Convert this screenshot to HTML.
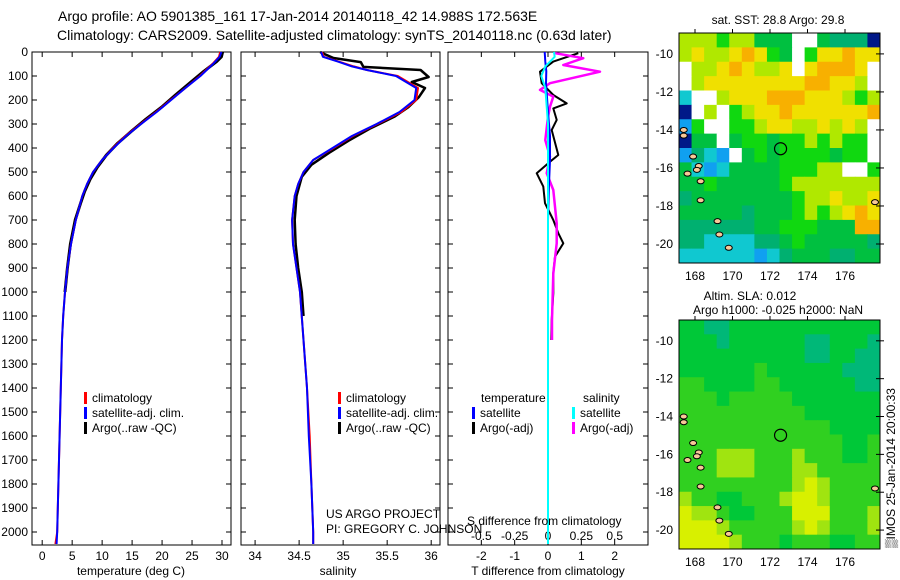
<!DOCTYPE html>
<html><head><meta charset="utf-8"><style>
body{margin:0;background:#fff;}
svg{display:block;font-family:"Liberation Sans",sans-serif;}
</style></head><body>
<svg id="fig" width="900" height="580" viewBox="0 0 900 580" xmlns="http://www.w3.org/2000/svg">
<text x="58" y="21" font-size="14">Argo profile: AO 5901385_161 17-Jan-2014 20140118_42 14.988S 172.563E</text>
<text x="57" y="40" font-size="14">Climatology: CARS2009. Satellite-adjusted climatology: synTS_20140118.nc (0.63d later)</text>
<g id="p1"></g>
<g id="p2"></g>
<g id="p3"></g>
<g id="m1"></g>
<g id="m2"></g>
<text x="778" y="24" font-size="12" text-anchor="middle">sat. SST: 28.8 Argo: 29.8</text>
<text x="750" y="300" font-size="12" text-anchor="middle">Altim. SLA: 0.012</text>
<text x="778" y="314" font-size="12" text-anchor="middle">Argo h1000: -0.025 h2000: NaN</text>
<text transform="translate(895,548) rotate(-90)" font-size="12">▒IMOS 25-Jan-2014 20:00:33</text>
<text x="326" y="518" font-size="12">US ARGO PROJECT</text>
<text x="326" y="533" font-size="12">PI: GREGORY C. JOHNSON</text>
<text x="467" y="525" font-size="12">S difference from climatology</text>
<text x="131" y="575" font-size="12" text-anchor="middle">temperature (deg C)</text>
<text x="338" y="575" font-size="12" text-anchor="middle">salinity</text>
<text x="548" y="575" font-size="12" text-anchor="middle">T difference from climatology</text>
</svg>
<script>
// ---- data ----
const tempDepth = [0,20,50,100,150,200,250,300,350,400,450,500,550,600,700,800,900,1000,1100,1200,1400,1600,1800,2000,2050];
const tempClim  = [29.7,29.5,28.4,26.3,23.9,21.4,19.0,16.4,13.9,11.8,10.0,8.5,7.5,6.7,5.6,4.8,4.2,3.8,3.5,3.3,3.1,2.9,2.7,2.5,2.2];
const tempSat   = [29.9,29.6,28.5,26.4,23.9,21.5,19.1,16.5,14.0,11.9,10.0,8.5,7.5,6.7,5.6,4.8,4.2,3.8,3.5,3.3,3.1,2.9,2.7,2.5,2.4];
const argoDepth = [0,20,40,80,130,180,230,280,330,380,430,480,530,580,630,700,800,900,1000];
const argoTemp  = [30.1,29.9,29.1,27.0,24.6,22.2,19.9,17.3,14.9,12.6,10.7,9.2,8.0,7.1,6.4,5.5,4.7,4.2,3.8];
const salDepth  = [0,20,40,60,75,100,150,200,250,300,350,400,450,500,550,600,700,800,900,1000,1200,1400,1600,1800,2000,2050];
const salClim   = [34.76,34.78,34.95,35.12,35.27,35.62,35.85,35.83,35.66,35.39,35.11,34.89,34.66,34.55,34.49,34.45,34.42,34.43,34.47,34.51,34.55,34.59,34.62,34.64,34.66,34.66];
const salSat    = [34.75,34.77,34.94,35.10,35.27,35.60,35.83,35.81,35.64,35.38,35.10,34.88,34.66,34.55,34.49,34.45,34.42,34.43,34.47,34.51,34.55,34.59,34.61,34.64,34.66,34.66];
const argoSalDepth = [0,4,25,42,62,75,104,125,150,188,230,270,320,370,420,470,520,600,700,800,900,1000,1100];
const argoSal   = [34.74,34.76,34.89,35.20,35.23,35.88,35.97,35.78,35.93,35.86,35.74,35.58,35.30,35.06,34.84,34.64,34.53,34.47,34.45,34.46,34.49,34.53,34.55];
const tDiffSatDepth = [0,40,80,130,250,350,450,550,700,2050];
const tDiffSat  = [-0.10,-0.08,-0.05,-0.06,0.0,0.06,0.06,0.03,0.0,0.0];
const sDiffSatDepth = [0,20,60,100,150,300,2050];
const sDiffSat  = [0.045,0.05,-0.02,-0.05,-0.02,0.0,0.0];
const tDiffArgoDepth = [5,40,82,130,179,214,235,283,325,429,457,505,561,630,700,755,797,853,922,1005,1117,1200];
const tDiffArgo = [0.91,0.16,-0.24,-0.19,0.16,0.56,0.16,0.26,0.11,0.31,0.06,-0.34,-0.14,-0.09,0.16,0.31,0.46,0.21,0.16,0.16,0.11,0.10];
const sDiffArgoDepth = [5,26,54,82,130,158,186,228,270,367,436,505,575,714,797,922,1117,1200];
const sDiffArgo = [0.053,0.265,0.115,0.39,0.015,-0.06,0.04,0.015,0.0,-0.02,0.015,-0.01,0.04,0.065,0.065,0.04,0.03,0.03];
const depthTicks = [0,100,200,300,400,500,600,700,800,900,1000,1100,1200,1300,1400,1500,1600,1700,1800,1900,2000];
const tempTicks = [0,5,10,15,20,25,30];
const salTicks = [34,34.5,35,35.5,36];
const tdTicks = [-2,-1,0,1,2];
const sdTicks = [-0.5,-0.25,0,0.25,0.5];
const sdTickLabels = ["-0.5","-0.25","0","0.25","0.5"];
const latTicks = [-10,-12,-14,-16,-18,-20];
const lonTicks = [168,170,172,174,176];
// SST map grid (0=no data, 1..9 colour classes), rows north->south
const sstGrid = [
"7776775550054441","7877898650688988","0778987780899980","0788888888998870",
"3007888999888767","1070678898888889","2600667887787870","1550566566767660",
"2432056566665660","5323555566677006","5565555567777777","4555555556778778",
"5555545556767898","4444445566655599","4433334456555554","3333332345554455"];
// SLA map grid
const slaGrid = [
"5544555555555555","5554555555445554","5555555555445544","5555556555555444",
"6655556655555544","6665666665555555","6666666666555555","6666666666665555",
"6666666666666556","6667776667666556","6667776667766666","6666666667876666",
"7665566678876666","8776556668886667","8887666667876667","8888766656665566"];
const islands = [[167.4,-14.0],[167.4,-14.3],[167.9,-15.4],[168.2,-15.9],[167.6,-16.3],[168.1,-16.1],[168.3,-16.7],[168.3,-17.7],[169.2,-18.8],[169.3,-19.5],[169.8,-20.2],[177.6,-17.8]];
const floatLon = 172.563, floatLat = -14.988;

// ---- helpers ----
const NS="http://www.w3.org/2000/svg";
function mk(parent,tag,attrs){const e=document.createElementNS(NS,tag);for(const k in attrs)e.setAttribute(k,attrs[k]);parent.appendChild(e);return e;}
const depthToY = d => 52 + d*0.24;

function panel(g,x0,x1,xmin,xmax){
  const sx = v => x0 + (v-xmin)/(xmax-xmin)*(x1-x0);
  const r=mk(g,'rect',{x:x0,y:52,width:x1-x0,height:493,fill:'#fff',stroke:'#000','stroke-width':1});
  
  
  depthTicks.forEach(d=>{const y=depthToY(d);
    mk(g,'line',{x1:x0,x2:x0+5,y1:y,y2:y,stroke:'#000'});
    mk(g,'line',{x1:x1-5,x2:x1,y1:y,y2:y,stroke:'#000'});});
  return sx;
}
function line(g,sx,xs,ds,color,w,name){
  const pts=xs.map((v,i)=>sx(v).toFixed(1)+','+depthToY(ds[i]).toFixed(1)).join(' ');
  const p=mk(g,'polyline',{points:pts,fill:'none',stroke:color,'stroke-width':w,'stroke-linejoin':'round'});
  
  
}
function xticks(g,sx,ticks,labels,ylab){
  ticks.forEach((t,i)=>{const x=sx(t);
    mk(g,'line',{x1:x,x2:x,y1:52,y2:57,stroke:'#000'});
    mk(g,'line',{x1:x,x2:x,y1:540,y2:545,stroke:'#000'});
    const tx=mk(g,'text',{x:x,y:ylab,'font-size':12,'text-anchor':'middle'});tx.textContent=labels[i];
    
    });
}
function legend(g,x,y,color,label){
  mk(g,'rect',{x:x,y:y-10,width:3,height:12,fill:color});
  const t=mk(g,'text',{x:x+8,y:y,'font-size':12});t.textContent=label;
  
  
}

// Panel 1
const g1=document.getElementById('p1');
const sx1=panel(g1,32,231,-1.7,31.5);
depthTicks.forEach(d=>{const t=mk(g1,'text',{x:28,y:depthToY(d)+4,'font-size':12,'text-anchor':'end'});t.textContent=d;
  
  });
xticks(g1,sx1,tempTicks,tempTicks.map(String),560);
line(g1,sx1,argoTemp,argoDepth,'#000',3,'argo-temperature-line');
line(g1,sx1,tempClim,tempDepth,'#f00',2,'climatology-temperature-line');
line(g1,sx1,tempSat,tempDepth,'#00f',2,'satellite-temperature-line');
legend(g1,84,402,'#f00','climatology');legend(g1,84,417,'#00f','satellite-adj. clim.');legend(g1,84,432,'#000','Argo(..raw -QC)');

// Panel 2
const g2=document.getElementById('p2');
const sx2=panel(g2,241,440,33.84,36.1);
xticks(g2,sx2,salTicks,["34","34.5","35","35.5","36"],560);
line(g2,sx2,argoSal,argoSalDepth,'#000',2.5,'argo-salinity-line');
line(g2,sx2,salClim,salDepth,'#f00',2,'climatology-salinity-line');
line(g2,sx2,salSat,salDepth,'#00f',2,'satellite-salinity-line');
legend(g2,338,402,'#f00','climatology');legend(g2,338,417,'#00f','satellite-adj. clim.');legend(g2,338,432,'#000','Argo(..raw -QC)');

// Panel 3
const g3=document.getElementById('p3');
const sx3=panel(g3,448,648,-3,3);
const sxS = v => sx3(v*4);
xticks(g3,sx3,tdTicks,tdTicks.map(String),560);
sdTicks.forEach((t,i)=>{const tx=mk(g3,'text',{x:sxS(t),y:540,'font-size':12,'text-anchor':'middle'});tx.textContent=sdTickLabels[i];
  
  });
line(g3,sx3,tDiffArgo,tDiffArgoDepth,'#000',2,'argo-t-diff-line');
line(g3,sxS,sDiffArgo,sDiffArgoDepth,'#f0f',2.5,'argo-s-diff-line');
line(g3,sx3,tDiffSat,tDiffSatDepth,'#00f',2,'satellite-t-diff-line');
line(g3,sxS,sDiffSat,sDiffSatDepth,'#0ff',2,'satellite-s-diff-line');
[[481,402,'temperature'],[583,402,'salinity']].forEach(a=>{const t=mk(g3,'text',{x:a[0],y:a[1],'font-size':12});t.textContent=a[2];
  
  });
legend(g3,472,417,'#00f','satellite');legend(g3,472,432,'#000','Argo(-adj)');
legend(g3,572,417,'#0ff','satellite');legend(g3,572,432,'#f0f','Argo(-adj)');

// Maps
const sstCols={0:'#fff',1:'#001888',2:'#10a0f0',3:'#10c8d0',4:'#00b070',5:'#00c040',6:'#10d810',7:'#b0e800',8:'#f0e000',9:'#f8b000'};
const slaCols={4:'#00b878',5:'#00c838',6:'#30d020',7:'#a0e410',8:'#d8f000'};
function map(g,y0,y1,grid,cols){
  const x0=679,x1=880;
  const lonX = lon => 695+(lon-168)*18.75;
  const latY = lat => y0 + (-8.9-lat)/12.1*(y1-y0);
  const nr=grid.length,nc=grid[0].length,cw=(x1-x0)/nc,ch=(y1-y0)/nr;
  grid.forEach((row,i)=>{for(let j=0;j<nc;j++){
    const c=mk(g,'rect',{x:x0+j*cw,y:y0+i*ch,width:cw+0.5,height:ch+0.5,fill:cols[row[j]]});
    
    }});
  islands.forEach(p=>{const e=mk(g,'ellipse',{cx:lonX(p[0]),cy:latY(p[1]),rx:3.5,ry:2.5,fill:'#f8c898',stroke:'#000','stroke-width':1});
    
    });
  const fr=mk(g,'rect',{x:x0,y:y0,width:x1-x0,height:y1-y0,fill:'none',stroke:'#000'});
  
  
  const c=mk(g,'circle',{cx:lonX(floatLon),cy:latY(floatLat),r:6,fill:'none',stroke:'#000','stroke-width':1.2});
  
  
  latTicks.forEach(l=>{const y=latY(l);
    mk(g,'line',{x1:x1-4,x2:x1,y1:y,y2:y,stroke:'#000'});mk(g,'line',{x1:x1,x2:x1+4,y1:y,y2:y,stroke:'#000'});
    const t=mk(g,'text',{x:673,y:y+4,'font-size':12,'text-anchor':'end'});t.textContent=l;
    
    });
  lonTicks.forEach(l=>{const x=lonX(l);
    mk(g,'line',{x1:x,x2:x,y1:y0-4,y2:y0,stroke:'#000'});
    const t=mk(g,'text',{x:x,y:y1+17,'font-size':12,'text-anchor':'middle'});t.textContent=l;
    
    });
}
map(document.getElementById('m1'),33,263,sstGrid,sstCols);
map(document.getElementById('m2'),320,549,slaGrid,slaCols);
</script>
</body></html>
